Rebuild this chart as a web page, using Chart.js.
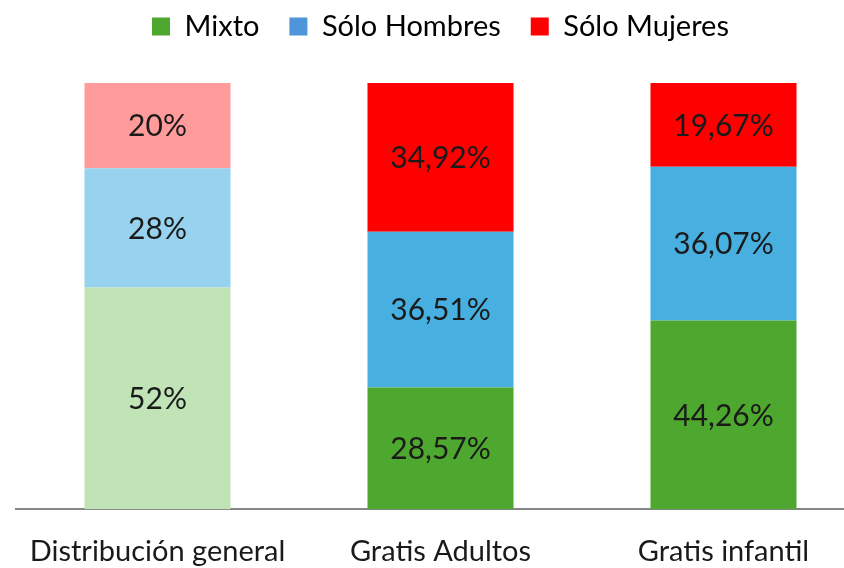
<!DOCTYPE html>
<html>
<head>
<meta charset="utf-8">
<script src="https://cdn.jsdelivr.net/npm/chart.js@4.4.1/dist/chart.umd.min.js"></script>
<style>
  html, body { margin: 0; padding: 0; background: #fff; overflow: hidden; }
  #box { width: 880px; height: 568px; }
</style>
</head>
<body>
<div id="box"><canvas id="grafico"></canvas></div>
<script>
// dati del grafico
const categorie = ['Distribución general', 'Gratis Adultos', 'Gratis infantil'];
const serieNomi = ['Mixto', 'Sólo Hombres', 'Sólo Mujeres'];
const mixto = [52, 28.57, 44.26];
const soloHombres = [28, 36.51, 36.07];
const soloMujeres = [20, 34.92, 19.67];

// colori: la prima colonna è più chiara
const coloriMixto = ['#C0E4B5', '#4EA72E', '#4EA72E'];
const coloriHombres = ['#97D3EE', '#47B0E0', '#47B0E0'];
const coloriMujeres = ['#FF9B9B', '#FF0000', '#FF0000'];
const coloriLegenda = ['#4EA72E', '#4E95D9', '#FF0000'];

const FONT = "Lato, 'Open Sans', sans-serif";

// formato con virgola decimale
function formatta(v) {
    if (Number.isInteger(v)) return v + '%';
    return v.toFixed(2).replace('.', ',') + '%';
}

// plugin per scrivere i valori dentro le barre
const etichette = {
    id: 'etichette',
    afterDatasetsDraw(chart) {
        const ctx = chart.ctx;
        ctx.save();
        ctx.font = '30px ' + FONT;
        ctx.fillStyle = '#1a1a1a';
        ctx.textAlign = 'center';
        ctx.textBaseline = 'middle';
        chart.data.datasets.forEach((ds, i) => {
            const meta = chart.getDatasetMeta(i);
            meta.data.forEach((bar, j) => {
                const y = (bar.y + bar.base) / 2;
                ctx.fillText(formatta(ds.data[j]), bar.x, y + 1);
            });
        });
        ctx.restore();
    }
};

// spazio in più sotto la legenda
const spazioLegenda = {
    id: 'spazioLegenda',
    beforeInit(chart) {
        const fitOrig = chart.legend.fit;
        chart.legend.fit = function () {
            fitOrig.call(this);
            this.height += 32;
        };
    }
};

const ctx = document.getElementById('grafico').getContext('2d');
new Chart(ctx, {
    type: 'bar',
    data: {
        labels: categorie,
        datasets: [
            { label: serieNomi[0], data: mixto, backgroundColor: coloriMixto },
            { label: serieNomi[1], data: soloHombres, backgroundColor: coloriHombres },
            { label: serieNomi[2], data: soloMujeres, backgroundColor: coloriMujeres }
        ]
    },
    options: {
        responsive: true,
        maintainAspectRatio: false,
        animation: false,
        layout: { padding: { left: 16, right: 15, top: -18, bottom: -26 } },
        datasets: { bar: { categoryPercentage: 1, barPercentage: 0.516 } },
        plugins: {
            tooltip: { enabled: false },
            legend: {
                position: 'top',
                labels: {
                    font: { size: 29, family: FONT },
                    color: '#1a1a1a',
                    boxWidth: 18,
                    boxHeight: 18,
                    padding: 30,
                    generateLabels(chart) {
                        return serieNomi.map((n, i) => ({
                            text: n,
                            fillStyle: coloriLegenda[i],
                            strokeStyle: coloriLegenda[i],
                            lineWidth: 0,
                            datasetIndex: i
                        }));
                    }
                }
            }
        },
        scales: {
            x: {
                stacked: true,
                grid: { display: false, drawTicks: false },
                border: { display: true, color: '#868686', width: 2 },
                ticks: {
                    font: { size: 29, family: FONT },
                    color: '#1a1a1a',
                    padding: 25
                }
            },
            y: {
                stacked: true,
                display: false,
                min: 0,
                max: 100
            }
        }
    },
    plugins: [etichette, spazioLegenda]
});
</script>
</body>
</html>
